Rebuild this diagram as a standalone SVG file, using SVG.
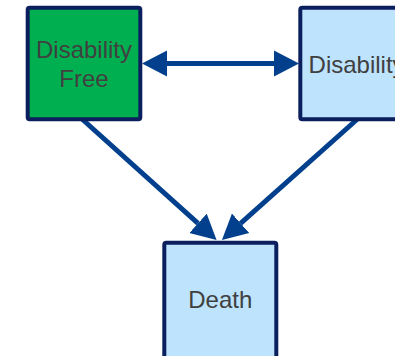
<svg xmlns="http://www.w3.org/2000/svg" width="395" height="356" viewBox="0 0 395 356">
  <style>
    .box { stroke: #0B1F5E; stroke-width: 4; }
    .free { fill: #00B050; }
    .state { fill: #BDE3FD; }
    .lbl { font-family: "Liberation Sans", Arial, sans-serif; font-size: 24px; fill: #404040; text-anchor: middle; }
    .conn { stroke: #023F8C; stroke-width: 5; fill: none; marker-end: url(#ah); }
  </style>
  <defs>
    <marker id="ah" markerUnits="userSpaceOnUse" markerWidth="26" markerHeight="28" refX="0" refY="13" orient="auto-start-reverse" viewBox="0 0 26 26">
      <path d="M0,0 L25,13 L0,26 z" fill="#023F8C"/>
    </marker>
  </defs>
  <g id="connectors">
    <line class="conn" x1="167" y1="63.5" x2="274" y2="63.5" style="marker-start:url(#ah)"/>
    <line class="conn" x1="82" y1="119" x2="198" y2="223.3"/>
    <line class="conn" x1="357.5" y1="119" x2="240.6" y2="223.3"/>
  </g>
  <g id="disability-free">
    <rect class="box free" x="27.7" y="7.7" width="112.6" height="111.5" rx="2"/>
    <text class="lbl" x="84" y="58">Disability</text>
    <text class="lbl" x="84" y="87">Free</text>
  </g>
  <g id="disability">
    <rect class="box state" x="300.3" y="7.7" width="112.6" height="111.5" rx="2"/>
    <text class="lbl" x="356.6" y="72.5">Disability</text>
  </g>
  <g id="death">
    <rect class="box state" x="164.3" y="242.7" width="112" height="116" rx="2"/>
    <text class="lbl" x="220.3" y="307.5">Death</text>
  </g>
</svg>
